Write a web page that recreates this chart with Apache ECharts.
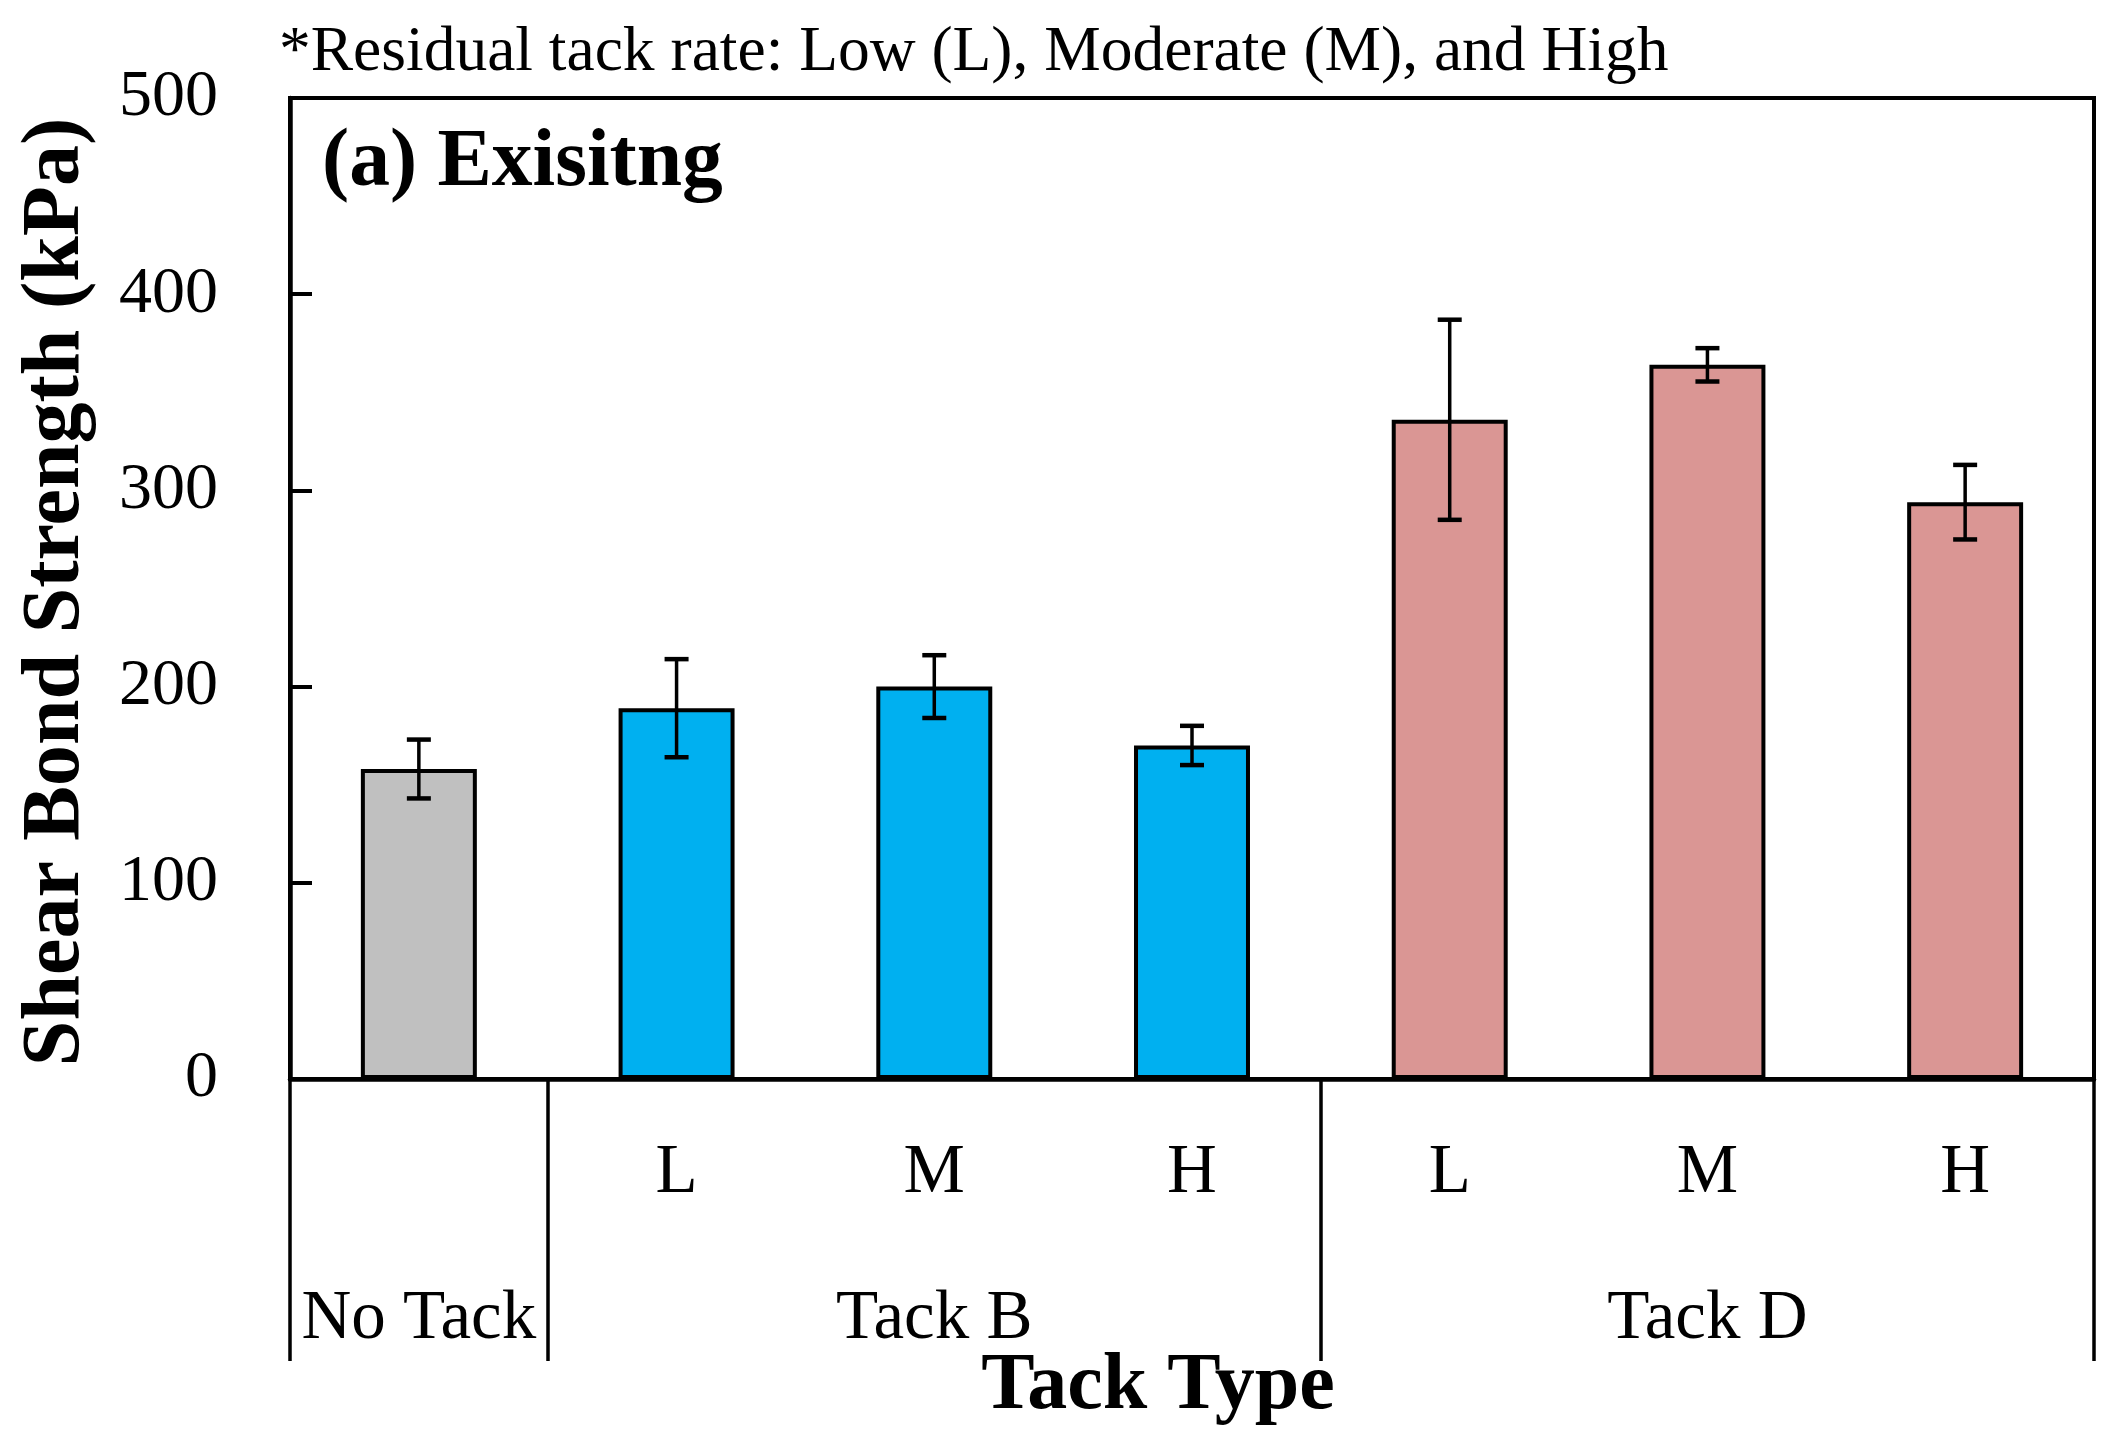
<!DOCTYPE html>
<html>
<head>
<meta charset="utf-8">
<script src="https://cdn.jsdelivr.net/npm/echarts@6/dist/echarts.min.js"></script>
<style>
html,body{margin:0;padding:0;background:#fff;}
#chart{width:2116px;height:1456px;}
</style>
</head>
<body>
<div id="chart"></div>
<script>
// ---- data ----
const groups = ['No Tack', 'Tack B', 'Tack B', 'Tack B', 'Tack D', 'Tack D', 'Tack D'];
const rates = ['', 'L', 'M', 'H', 'L', 'M', 'H'];
const strength = [158, 189, 200, 170, 336, 364, 294];
const errorBars = [15, 25, 16, 10, 51, 8.5, 19];
const yTicks = [0, 100, 200, 300, 400, 500];
const groupColors = { 'No Tack': '#C0C0C0', 'Tack B': '#00B0F0', 'Tack D': '#DA9694' };

// group spans derived from groups
const groupNames = [];
const groupFirst = {}, groupLast = {};
groups.forEach((g, i) => {
  if (!(g in groupFirst)) { groupFirst[g] = i; groupNames.push(g); }
  groupLast[g] = i;
});
const boundaries = [-0.5].concat(groupNames.map(g => groupLast[g] + 0.5));
const centers = groupNames.map(g => (groupFirst[g] + groupLast[g]) / 2);

const FONT = 'Liberation Serif';
const chart = echarts.init(document.getElementById('chart'), null, { renderer: 'canvas' });

chart.setOption({
  backgroundColor: '#ffffff',
  animation: false,
  grid: {
    left: 290, right: 22, top: 98, bottom: 377,
    show: true, borderColor: '#000', borderWidth: 4, backgroundColor: 'transparent'
  },
  xAxis: [
    {
      type: 'category',
      data: rates,
      position: 'bottom',
      axisLine: { show: true, onZero: false, lineStyle: { color: '#000', width: 4.5 } },
      axisTick: { show: false },
      axisLabel: { color: '#000', fontFamily: FONT, fontSize: 69, margin: 60, interval: 0 },
      splitLine: { show: false }
    },
    {
      type: 'value',
      min: -0.5, max: 6.5,
      position: 'bottom',
      axisLine: { show: false, onZero: false },
      splitLine: { show: false },
      axisTick: {
        show: true, inside: false, length: 282,
        customValues: boundaries,
        lineStyle: { color: '#000', width: 3.5 }
      },
      axisLabel: {
        show: true, color: '#000', fontFamily: FONT, fontSize: 69, margin: 206,
        customValues: centers,
        formatter: function (v) {
          const k = centers.findIndex(c => Math.abs(c - v) < 1e-6);
          return k >= 0 ? groupNames[k] : '';
        }
      }
    }
  ],
  yAxis: {
    type: 'value',
    min: 0, max: 500, interval: 100,
    axisLine: { show: true, onZero: false, lineStyle: { color: '#000', width: 4.5 } },
    axisTick: { show: true, inside: true, length: 22, lineStyle: { color: '#000', width: 4 } },
    axisLabel: {
      color: '#000', fontFamily: FONT, fontSize: 66, margin: 72,
      formatter: v => (yTicks.indexOf(v) >= 0 ? String(v) : '')
    },
    splitLine: { show: false }
  },
  series: [
    {
      type: 'bar',
      xAxisIndex: 0,
      barWidth: '45%',
      data: strength.map((v, i) => ({
        value: v,
        itemStyle: { color: groupColors[groups[i]], borderColor: '#000', borderWidth: 4 }
      })),
      z: 2
    },
    {
      type: 'custom',
      xAxisIndex: 0,
      data: strength.map((v, i) => [i, v - errorBars[i], v + errorBars[i]]),
      renderItem: function (params, api) {
        const x = api.value(0);
        const lo = api.coord([x, api.value(1)]);
        const hi = api.coord([x, api.value(2)]);
        const hw = 12;
        const style = { stroke: '#000', lineWidth: 3.5 };
        return {
          type: 'group',
          children: [
            { type: 'line', shape: { x1: lo[0], y1: lo[1], x2: hi[0], y2: hi[1] }, style: style },
            { type: 'line', shape: { x1: lo[0] - hw, y1: lo[1], x2: lo[0] + hw, y2: lo[1] }, style: { stroke: '#000', lineWidth: 4.5 } },
            { type: 'line', shape: { x1: hi[0] - hw, y1: hi[1], x2: hi[0] + hw, y2: hi[1] }, style: { stroke: '#000', lineWidth: 4.5 } }
          ]
        };
      },
      z: 5
    }
  ],
  graphic: [
    {
      type: 'text', left: 279, top: 21,
      style: { text: '*Residual tack rate: Low (L), Moderate (M), and High', fill: '#000',
        font: '63.5px "Liberation Serif"' }
    },
    {
      type: 'text', left: 322, top: 123,
      style: { text: '(a) Exisitng', fill: '#000', font: 'bold 81.5px "Liberation Serif"' }
    },
    {
      type: 'text', x: 1158, y: 1387,
      style: { text: 'Tack Type', fill: '#000', font: 'bold 80px "Liberation Serif"',
        textAlign: 'center', textVerticalAlign: 'middle' }
    },
    {
      type: 'text', x: 57, y: 592, rotation: Math.PI / 2,
      style: { text: 'Shear Bond Strength (kPa)', fill: '#000', font: 'bold 82px "Liberation Serif"',
        textAlign: 'center', textVerticalAlign: 'middle' }
    }
  ]
});
</script>
</body>
</html>
